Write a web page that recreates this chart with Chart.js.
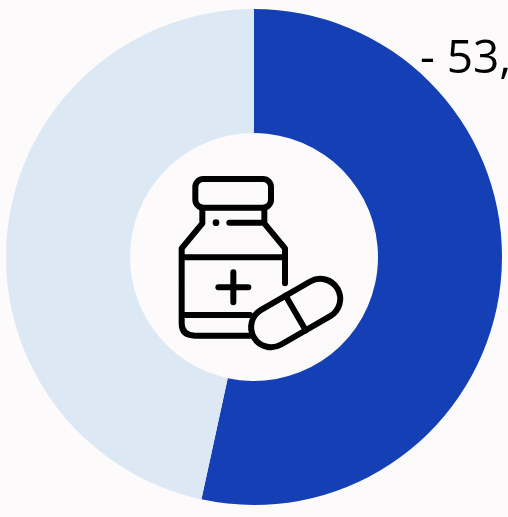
<!DOCTYPE html>
<html>
<head>
<meta charset="utf-8">
<script src="https://cdn.jsdelivr.net/npm/chart.js@4"></script>
<style>
  html, body { margin: 0; padding: 0; background: #fcfafb; overflow: hidden; }
  canvas { display: block; }
</style>
</head>
<body>
<canvas id="pieChart" width="508" height="517"></canvas>
<script>
const categories = ['Sim', 'Não'];
const shares = [53.4, 46.6];
const sliceColors = ['#143fb5', '#dce9f5'];

// Bottle and pill in 3x units
const iconOutline = [
  'M127 143V190L65 265V490Q65 527 105 527H270',
  'M313 143V190L375 265V370',
  'M65 292H375',
  'M65 465H270',
  'M208 188H305',
  'M175 382H265',
  'M220 337V427'
].join('');

const centerIcon = {
  id: 'centerIcon',
  afterDraw(chart) {
    const ctx = chart.ctx;
    ctx.save();
    ctx.translate(160, 160);
    ctx.scale(1 / 3, 1 / 3);
    ctx.strokeStyle = '#000';
    ctx.lineWidth = 18;
    ctx.lineCap = 'round';
    ctx.lineJoin = 'round';

    ctx.beginPath();
    ctx.roundRect(106, 57, 227, 86, 24);
    ctx.stroke();
    ctx.stroke(new Path2D(iconOutline));

    ctx.beginPath();
    ctx.arc(168, 188, 10, 0, Math.PI * 2);
    ctx.fillStyle = '#000';
    ctx.fill();

    // pill
    ctx.translate(407, 459);
    ctx.rotate(-Math.PI / 6);
    ctx.beginPath();
    ctx.roundRect(-145, -60, 290, 120, 60);
    ctx.fillStyle = '#fcfafb';
    ctx.fill();
    ctx.stroke();
    ctx.beginPath();
    ctx.moveTo(0, -60);
    ctx.lineTo(0, 60);
    ctx.stroke();
    ctx.restore();
  }
};

const shareLabel = {
  id: 'shareLabel',
  afterDraw(chart) {
    const ctx = chart.ctx;
    const text = '- ' + shares[0].toFixed(1).replace('.', ',') + '%';
    ctx.save();
    ctx.fillStyle = '#000';
    ctx.font = '46px "Open Sans"';
    ctx.textAlign = 'left';
    ctx.textBaseline = 'alphabetic';
    ctx.fillText(text, 420, 73);
    ctx.restore();
  }
};

new Chart(document.getElementById('pieChart').getContext('2d'), {
  type: 'doughnut',
  data: {
    labels: categories,
    datasets: [{
      data: shares,
      backgroundColor: sliceColors,
      borderWidth: 0
    }]
  },
  options: {
    responsive: false,
    animation: false,
    cutout: '50%',
    layout: { padding: { left: 6, right: 6, top: 9, bottom: 12 } },
    plugins: {
      legend: { display: false },
      tooltip: { enabled: false }
    }
  },
  plugins: [centerIcon, shareLabel]
});
</script>
</body>
</html>
